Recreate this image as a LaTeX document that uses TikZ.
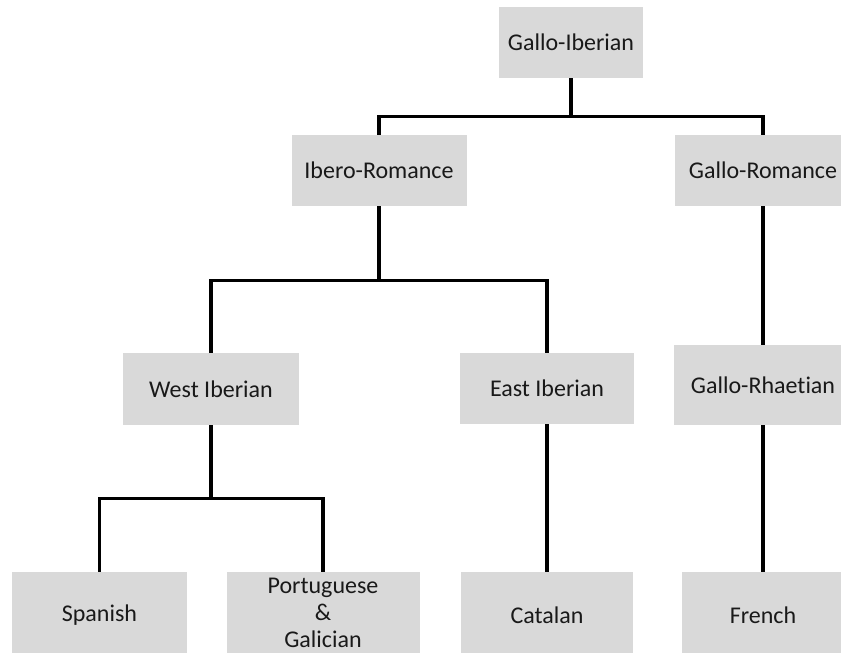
\documentclass[tikz,border=0pt]{standalone}
\usepackage{fontspec}
\setmainfont[RawFeature=-liga]{Carlito}
\definecolor{boxgray}{HTML}{D9D9D9}
\tikzset{
  lang/.style={fill=boxgray, text=black!90, minimum width=175pt, minimum height=71pt,
    inner sep=2pt, align=center, font=\fontsize{24}{28}\selectfont},
  leaf/.style={lang, minimum height=86pt},
  branch/.style={line width=3.2pt, line join=miter},
}

\begin{document}
\begin{tikzpicture}[x=1pt, y=-1pt]
\useasboundingbox (0,0) rectangle (841,653);
\clip (0,0) rectangle (841,653);
% top level
\node[lang, minimum width=144pt] (gi) at (571,42.5) {Gallo-Iberian};
\node[lang] (ir) at (379,170.5) {Ibero-Romance};
\node[lang, minimum width=176pt] (gr) at (763,170.5) {Gallo-Romance};
% middle level
\node[lang, minimum width=176pt, minimum height=72pt] (wi) at (211,389) {West Iberian};
\node[lang, minimum width=174pt] (ei) at (547,388.5) {East Iberian};
\node[lang, minimum width=178pt, minimum height=80pt] (rh) at (763,385) {Gallo-Rhaetian};
% languages
\node[leaf] (sp) at (99.5,615) {Spanish};
\node[leaf, minimum width=193pt, font=\fontsize{24}{27}\selectfont] (pg) at (323,615) {Portuguese\\\&\\Galician\vphantom{y}};
\node[leaf, minimum width=172pt] (ca) at (547,615) {Catalan};
\node[leaf, minimum width=162pt] (fr) at (763,615) {French};
% branches
\draw[branch] (gi.south) -- ++(0,38) -| (ir.north);
\draw[branch] (gi.south) -- ++(0,38) -| (gr.north);
\draw[branch] (ir.south) -- ++(0,74) -| (wi.north);
\draw[branch] (ir.south) -- ++(0,74) -| (ei.north);
\draw[branch] (gr.south) -- (rh.north);
\draw[branch] (wi.south) -- ++(0,73) -| (sp.north);
\draw[branch] (wi.south) -- ++(0,73) -| (pg.north);
\draw[branch] (ei.south) -- (ca.north);
\draw[branch] (rh.south) -- (fr.north);
\end{tikzpicture}
\end{document}
